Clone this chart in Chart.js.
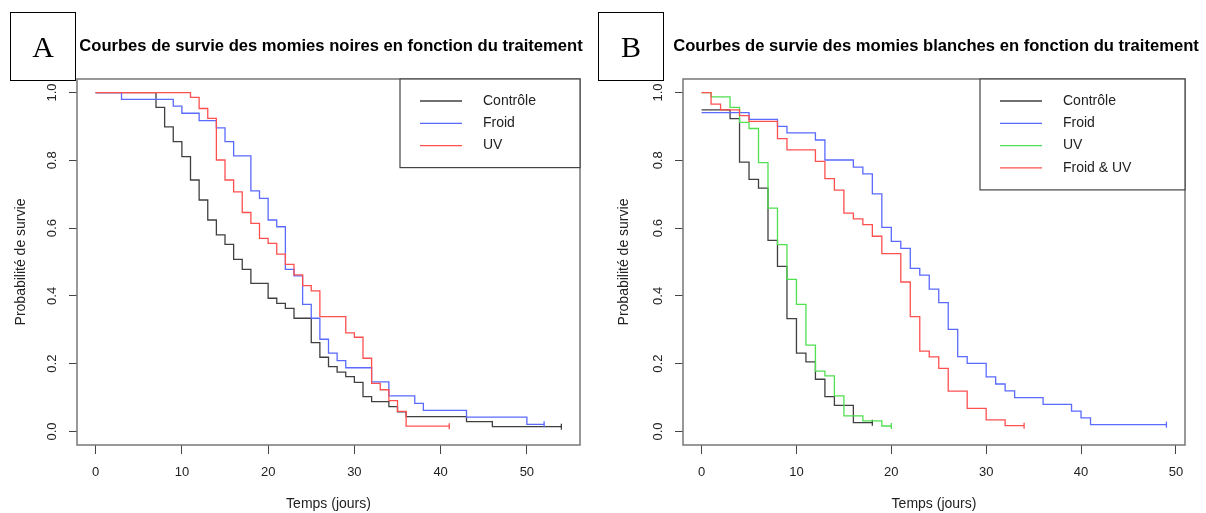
<!DOCTYPE html>
<html>
<head>
<meta charset="utf-8">
<script src="https://cdn.jsdelivr.net/npm/chart.js@4.4.1/dist/chart.umd.min.js"></script>
<style>
  html, body { margin: 0; padding: 0; background: #fff; }
  body { width: 1206px; height: 513px; position: relative; overflow: hidden; font-family: 'Liberation Sans', Arial, sans-serif; }
  .panel { position: absolute; top: 0; width: 603px; height: 513px; }
  .tag { position: absolute; top: 12px; width: 64px; height: 67px; border: 1px solid #000;
         font-family: 'Liberation Serif', 'Times New Roman', serif; font-size: 30px; line-height: 67px; text-align: center; color: #000; }
  .title { position: absolute; top: 36px; font-weight: bold; font-size: 16.6px; line-height: 20px; white-space: nowrap; transform: translateX(-50%); color: #000; }
</style>
</head>
<body>
<div class="panel" style="left:0"><canvas id="chartA" width="603" height="513"></canvas></div>
<div class="panel" style="left:603px"><canvas id="chartB" width="603" height="513"></canvas></div>
<div class="tag" style="left:10px">A</div>
<div class="tag" style="left:598px">B</div>
<div class="title" style="left:331px">Courbes de survie des momies noires en fonction du traitement</div>
<div class="title" style="left:936px">Courbes de survie des momies blanches en fonction du traitement</div>

<script>
// axis ticks
const xTicks = [0, 10, 20, 30, 40, 50];
const yTicks = [0, 0.2, 0.4, 0.6, 0.8, 1.0];

// Panel A - momies noires
const tempsA_controle = [0, 7, 8, 9, 10, 11, 12, 13, 14, 15, 16, 17, 18, 20, 21, 22, 23, 25, 26, 27, 28, 29, 30, 31, 32, 34, 35, 36, 43, 46, 54];
const survieA_controle = [1, 0.956, 0.899, 0.855, 0.811, 0.742, 0.683, 0.624, 0.580, 0.552, 0.508, 0.478, 0.437, 0.393, 0.378, 0.363, 0.334, 0.262, 0.219, 0.191, 0.175, 0.162, 0.145, 0.103, 0.088, 0.073, 0.058, 0.044, 0.029, 0.014, 0.014];
const tempsA_froid = [0, 3, 9, 10, 12, 14, 15, 16, 18, 19, 20, 21, 22, 23, 24, 25, 26, 27, 28, 29, 32, 34, 37, 38, 43, 50, 52];
const survieA_froid = [1, 0.980, 0.960, 0.939, 0.917, 0.896, 0.855, 0.813, 0.710, 0.688, 0.624, 0.604, 0.478, 0.459, 0.375, 0.334, 0.272, 0.231, 0.209, 0.188, 0.146, 0.105, 0.083, 0.062, 0.042, 0.021, 0.021];
const tempsA_uv = [0, 11, 12, 13, 14, 15, 16, 17, 18, 19, 20, 21, 22, 23, 24, 25, 26, 29, 30, 31, 32, 33, 34, 35, 36, 41];
const survieA_uv = [1, 0.986, 0.953, 0.924, 0.801, 0.742, 0.707, 0.646, 0.614, 0.570, 0.555, 0.523, 0.493, 0.462, 0.430, 0.415, 0.339, 0.291, 0.278, 0.216, 0.142, 0.123, 0.091, 0.059, 0.0156, 0.0156];

// Panel B - momies blanches
const tempsB_controle = [0, 3, 4, 5, 6, 7, 8, 9, 10, 11, 12, 13, 14, 16, 18];
const survieB_controle = [0.949, 0.923, 0.795, 0.744, 0.718, 0.564, 0.487, 0.333, 0.231, 0.205, 0.154, 0.103, 0.077, 0.026, 0.026];
const tempsB_froid = [0, 5, 8, 9, 12, 13, 16, 17, 18, 19, 20, 21, 22, 23, 24, 25, 26, 27, 28, 30, 31, 32, 33, 36, 39, 40, 41, 49];
const survieB_froid = [0.941, 0.921, 0.900, 0.881, 0.860, 0.801, 0.780, 0.760, 0.701, 0.602, 0.561, 0.540, 0.481, 0.461, 0.420, 0.380, 0.301, 0.221, 0.201, 0.161, 0.140, 0.120, 0.100, 0.080, 0.060, 0.040, 0.020, 0.020];
const tempsB_uv = [0, 1, 3, 4, 5, 6, 7, 8, 9, 10, 11, 12, 13, 14, 15, 17, 19, 20];
const survieB_uv = [1, 0.987, 0.956, 0.912, 0.894, 0.793, 0.659, 0.551, 0.449, 0.375, 0.255, 0.178, 0.164, 0.105, 0.046, 0.031, 0.016, 0.016];
const tempsB_froidUv = [0, 1, 2, 4, 5, 8, 9, 12, 13, 14, 15, 16, 17, 18, 19, 21, 22, 23, 24, 25, 26, 28, 30, 32, 34];
const survieB_froidUv = [1, 0.966, 0.949, 0.932, 0.915, 0.864, 0.831, 0.797, 0.746, 0.712, 0.644, 0.627, 0.610, 0.576, 0.525, 0.441, 0.339, 0.237, 0.220, 0.186, 0.119, 0.068, 0.034, 0.017, 0.017];

const colNoir = 'rgba(30,30,30,0.85)';
const colBleu = '#5a6aff';
const colVert = '#50e050';
const colRouge = '#ff5050';
const fontAxes = '"Liberation Sans", Arial, sans-serif';

function toPoints(t, s) {
    return t.map((v, i) => ({ x: v, y: s[i] }));
}

function serie(label, t, s, color, order) {
    return {
        label: label,
        data: toPoints(t, s),
        borderColor: color,
        backgroundColor: color,
        borderWidth: 1.3,
        stepped: 'before',   // horizontal puis chute (Kaplan-Meier)
        fill: false,
        order: order,
        pointStyle: 'line',
        rotation: 90,
        pointBorderColor: color,
        pointBorderWidth: 1.3,
        pointRadius: c => c.dataIndex === c.dataset.data.length - 1 ? 3 : 0
    };
}

// cadre, labels de l'axe y et légende façon R
const rStyle = {
    id: 'rStyle',
    afterDraw(chart, args, opts) {
        const ctx = chart.ctx;
        const a = chart.chartArea;
        ctx.save();
        ctx.strokeStyle = '#777';
        ctx.lineWidth = 1.5;
        ctx.strokeRect(a.left, a.top, a.right - a.left, a.bottom - a.top);

        // y tick labels (rotated)
        const y = chart.scales.y;
        ctx.fillStyle = '#222';
        ctx.font = '13px ' + fontAxes;
        ctx.textAlign = 'center';
        ctx.textBaseline = 'middle';
        yTicks.forEach(v => {
            ctx.save();
            ctx.translate(a.left - 25, y.getPixelForValue(v));
            ctx.rotate(-Math.PI / 2);
            ctx.fillText(v.toFixed(1), 0, 0);
            ctx.restore();
        });

        // legend
        const ds = chart.data.datasets;
        const lx = a.right - opts.width;
        const ly = a.top;
        const h = 22 + (ds.length - 1) * 22.3 + 22;
        ctx.fillStyle = '#fff';
        ctx.fillRect(lx, ly, opts.width, h);
        ctx.strokeStyle = '#444';
        ctx.lineWidth = 1.2;
        ctx.strokeRect(lx, ly, opts.width, h);
        ctx.textAlign = 'left';
        ctx.font = '14px ' + fontAxes;
        ds.forEach((d, i) => {
            const ry = ly + 22 + i * 22.3;
            ctx.strokeStyle = d.borderColor;
            ctx.lineWidth = 1.3;
            ctx.beginPath();
            ctx.moveTo(lx + 20, ry);
            ctx.lineTo(lx + 62, ry);
            ctx.stroke();
            ctx.fillStyle = '#222';
            ctx.fillText(d.label, lx + 83, ry);
        });
        ctx.restore();
    }
};

function makeChart(canvasId, datasets, xMin, xMax, yWidth, padRight, legendWidth) {
    const canvas = document.getElementById(canvasId);
    return new Chart(canvas.getContext('2d'), {
        type: 'line',
        data: { datasets: datasets },
        options: {
            responsive: false,
            animation: false,
            layout: { padding: { top: 79, right: padRight, bottom: 0, left: 0 } },
            plugins: {
                legend: { display: false },
                tooltip: { enabled: false },
                rStyle: { width: legendWidth }
            },
            scales: {
                x: {
                    type: 'linear',
                    min: xMin,
                    max: xMax,
                    afterBuildTicks: s => { s.ticks = xTicks.map(v => ({ value: v })); },
                    afterFit: s => { s.height = 68; },
                    grid: { drawOnChartArea: false, drawTicks: true, tickLength: 9, color: '#444' },
                    border: { display: false },
                    ticks: {
                        color: '#222',
                        font: { size: 13, family: fontAxes },
                        padding: 11,
                        maxRotation: 0,
                        callback: v => String(v)
                    },
                    title: {
                        display: true,
                        text: 'Temps (jours)',
                        color: '#222',
                        font: { size: 14, family: fontAxes },
                        padding: { top: 0, bottom: 0 }
                    }
                },
                y: {
                    type: 'linear',
                    min: -0.04,
                    max: 1.04,
                    afterBuildTicks: s => { s.ticks = yTicks.map(v => ({ value: v })); },
                    afterFit: s => { s.width = yWidth; },
                    grid: { drawOnChartArea: false, drawTicks: true, tickLength: 8, color: '#444' },
                    border: { display: false },
                    ticks: { display: false },
                    title: {
                        display: true,
                        text: 'Probabilité de survie',
                        color: '#222',
                        font: { size: 14, family: fontAxes },
                        padding: { top: 13, bottom: 0 }
                    }
                }
            }
        },
        plugins: [rStyle]
    });
}

makeChart('chartA', [
    serie('Contrôle', tempsA_controle, survieA_controle, colNoir, 3),
    serie('Froid', tempsA_froid, survieA_froid, colBleu, 2),
    serie('UV', tempsA_uv, survieA_uv, colRouge, 1)
], -2.16, 56.16, 77, 23, 180);

makeChart('chartB', [
    serie('Contrôle', tempsB_controle, survieB_controle, colNoir, 4),
    serie('Froid', tempsB_froid, survieB_froid, colBleu, 3),
    serie('UV', tempsB_uv, survieB_uv, colVert, 2),
    serie('Froid & UV', tempsB_froidUv, survieB_froidUv, colRouge, 1)
], -1.96, 50.96, 80, 21, 205);
</script>
</body>
</html>
